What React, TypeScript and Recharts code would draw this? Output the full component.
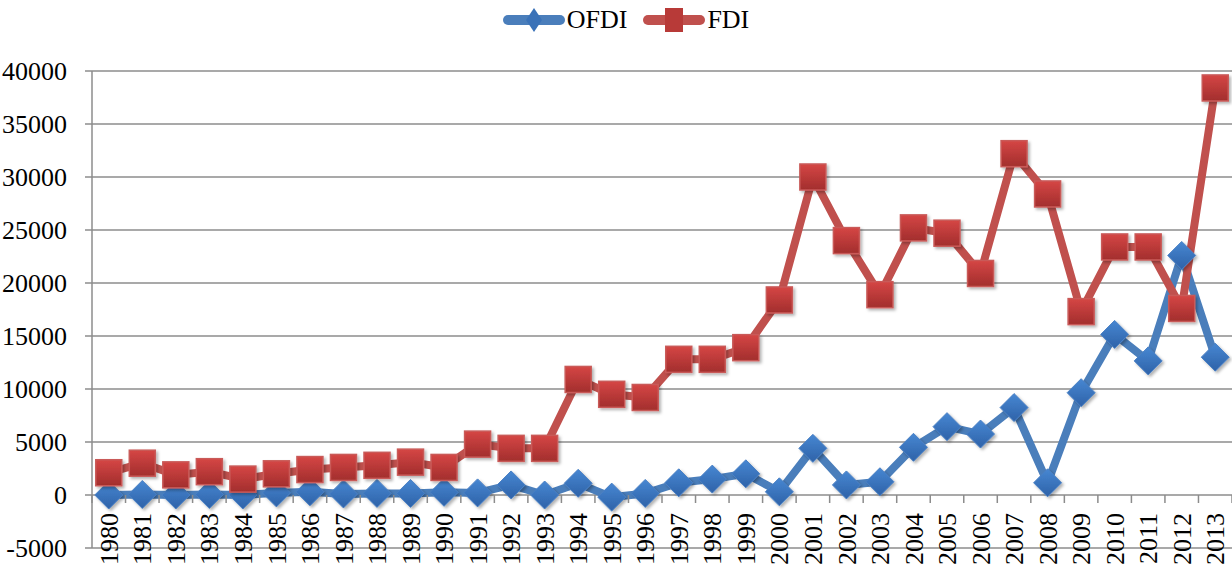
import React from "react";
import {
  LineChart,
  Line,
  XAxis,
  YAxis,
  CartesianGrid,
  Legend,
  usePlotArea,
} from "recharts";

const years = [
  "1980","1981","1982","1983","1984","1985","1986","1987","1988","1989",
  "1990","1991","1992","1993","1994","1995","1996","1997","1998","1999",
  "2000","2001","2002","2003","2004","2005","2006","2007","2008","2009",
  "2010","2011","2012","2013",
];

const ofdi = [
  0, 50, 0, 50, 0, 200, 300, 100, 150, 150,
  250, 200, 950, 0, 1100, -200, 150, 1150, 1500, 2000,
  300, 4400, 950, 1250, 4500, 6450, 5750, 8250, 1150, 9650,
  15150, 12650, 22600, 13000,
];

const fdi = [
  2100, 3000, 1900, 2200, 1500, 2000, 2400, 2600, 2800, 3100,
  2600, 4800, 4400, 4400, 10900, 9500, 9200, 12800, 12800, 13900,
  18400, 30000, 24000, 18900, 25200, 24700, 20900, 32200, 28400, 17300,
  23400, 23400, 17600, 38400,
];

const yTicks = [-5000, 0, 5000, 10000, 15000, 20000, 25000, 30000, 35000, 40000];

const data = years.map((year, i) => ({ year, OFDI: ofdi[i], FDI: fdi[i] }));

const FONT = '"Liberation Serif", "Times New Roman", serif';
const GRID = "#8C8C8C";
const BLUE = "#4A7EBB";
const RED = "#C0504D";
const Y_MIN = -5000;
const Y_MAX = 40000;

// year labels hang under the zero line, with ticks between categories
function YearTick(props: any) {
  const { x, payload, index } = props;
  const plot = usePlotArea();
  if (!plot || x == null) return null;
  const zeroY = plot.y + (plot.height * Y_MAX) / (Y_MAX - Y_MIN);
  const half = payload.offset || plot.width / years.length / 2;
  return (
    <g>
      <line x1={x - half} x2={x - half} y1={zeroY} y2={zeroY + 8} stroke={GRID} strokeWidth={1.5} />
      {index === years.length - 1 && (
        <line x1={x + half} x2={x + half} y1={zeroY} y2={zeroY + 8} stroke={GRID} strokeWidth={1.5} />
      )}
      <text
        transform={`translate(${x},${zeroY + 18}) rotate(-90)`}
        textAnchor="end"
        dy="0.35em"
        fontFamily={FONT}
        fontSize={26}
        fill="#000"
      >
        {payload.value}
      </text>
    </g>
  );
}

function SquareDot(props: any) {
  const { cx, cy } = props;
  if (cx == null || cy == null) return null;
  return (
    <rect
      x={cx - 13}
      y={cy - 13}
      width={26}
      height={26}
      fill="url(#fdiFill)"
      stroke="#C95A58"
      strokeWidth={1.5}
      filter="url(#markShadow)"
    />
  );
}

function DiamondDot(props: any) {
  const { cx, cy } = props;
  if (cx == null || cy == null) return null;
  const r = 14;
  return (
    <path
      d={`M${cx},${cy - r}L${cx + r},${cy}L${cx},${cy + r}L${cx - r},${cy}Z`}
      fill="url(#ofdiFill)"
      stroke="#4A80C4"
      strokeWidth={1}
      filter="url(#markShadow)"
    />
  );
}

function LegendIcon({ kind }: { kind: "diamond" | "square" }) {
  return (
    <svg width={62} height={30} style={{ display: "block" }}>
      <line
        x1={5}
        x2={57}
        y1={15}
        y2={15}
        stroke={kind === "diamond" ? BLUE : RED}
        strokeWidth={10}
        strokeLinecap="round"
      />
      {kind === "diamond" ? (
        <path d="M31,3L39,15L31,27L23,15Z" fill="#3A72B8" />
      ) : (
        <rect x={22} y={3} width={18} height={24} fill="#B83A38" />
      )}
    </svg>
  );
}

function ChartLegend() {
  const items: { name: string; kind: "diamond" | "square" }[] = [
    { name: "OFDI", kind: "diamond" },
    { name: "FDI", kind: "square" },
  ];
  return (
    <div
      style={{
        display: "flex",
        justifyContent: "center",
        alignItems: "center",
        height: 40,
        paddingLeft: 20,
        fontFamily: FONT,
        fontSize: 26,
        color: "#000",
      }}
    >
      {items.map((it, i) => (
        <div
          key={it.name}
          style={{ display: "flex", alignItems: "center", marginLeft: i ? 16 : 0 }}
        >
          <LegendIcon kind={it.kind} />
          <span style={{ marginLeft: 2, lineHeight: "30px" }}>{it.name}</span>
        </div>
      ))}
    </div>
  );
}

export default function App() {
  return (
    <div style={{ position: "absolute", left: 0, top: 0, width: 1232, height: 565, background: "#fff" }}>
      <LineChart
        width={1232}
        height={565}
        data={data}
        margin={{ top: 31, right: 0, bottom: 0, left: 0 }}
      >
        <defs>
          <linearGradient id="fdiFill" x1="0" y1="0" x2="0" y2="1">
            <stop offset="0%" stopColor="#D54645" />
            <stop offset="100%" stopColor="#A22E2D" />
          </linearGradient>
          <linearGradient id="ofdiFill" x1="0" y1="0" x2="0" y2="1">
            <stop offset="0%" stopColor="#4787D2" />
            <stop offset="100%" stopColor="#2E62A8" />
          </linearGradient>
          <filter id="markShadow" x="-30%" y="-30%" width="170%" height="170%">
            <feDropShadow dx={2} dy={2} stdDeviation={1.5} floodColor="#000" floodOpacity={0.3} />
          </filter>
        </defs>
        <CartesianGrid vertical={false} stroke={GRID} strokeWidth={1.5} />
        <XAxis
          dataKey="year"
          scale="band"
          interval={0}
          height={17}
          axisLine={false}
          tickLine={false}
          tick={<YearTick />}
        />
        <YAxis
          domain={[Y_MIN, Y_MAX]}
          ticks={yTicks}
          width={92}
          tickSize={7}
          tickMargin={18}
          axisLine={{ stroke: GRID, strokeWidth: 1.5 }}
          tickLine={{ stroke: GRID, strokeWidth: 1.5 }}
          tick={{ fontFamily: FONT, fontSize: 26, fill: "#000" }}
          allowDataOverflow
        />
        <Legend
          verticalAlign="top"
          align="center"
          wrapperStyle={{ top: 0, left: 0, width: 1232, height: 40 }}
          content={<ChartLegend />}
        />
        <Line
          dataKey="OFDI"
          stroke={BLUE}
          strokeWidth={8}
          strokeLinejoin="round"
          dot={<DiamondDot />}
          activeDot={false}
          isAnimationActive={false}
        />
        <Line
          dataKey="FDI"
          stroke={RED}
          strokeWidth={8}
          strokeLinejoin="round"
          dot={<SquareDot />}
          activeDot={false}
          isAnimationActive={false}
        />
      </LineChart>
    </div>
  );
}
